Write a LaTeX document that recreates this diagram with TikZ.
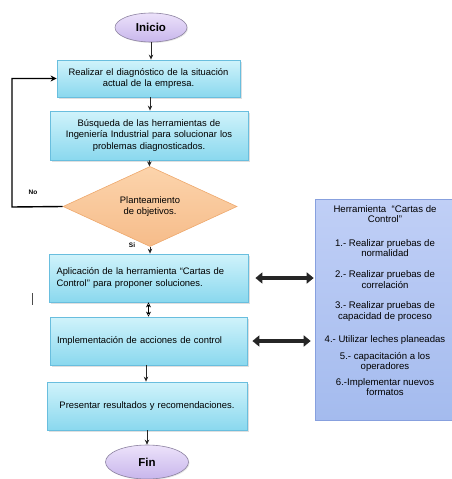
\documentclass[tikz,border=0pt]{standalone}
\usepackage{fontspec}
\setmainfont{Liberation Sans}
\usetikzlibrary{shapes.geometric,arrows.meta,shadows}
\definecolor{boxtop}{RGB}{208,243,251}
\definecolor{boxbot}{RGB}{138,216,238}
\definecolor{boxline}{RGB}{105,190,222}
\definecolor{diatop}{RGB}{252,212,172}
\definecolor{diabot}{RGB}{246,188,138}
\definecolor{dialine}{RGB}{238,168,108}
\definecolor{ovtop}{RGB}{236,226,250}
\definecolor{ovbot}{RGB}{200,182,236}
\definecolor{ovline}{RGB}{140,130,160}
\definecolor{paneltop}{RGB}{192,207,246}
\definecolor{panelbot}{RGB}{164,187,238}
\definecolor{panelline}{RGB}{135,160,222}
\tikzset{
  txt/.style={font=\fontsize{9.4}{11.2}\selectfont, text=black},
  stepbox/.style={rectangle, draw=boxline, line width=0.8pt, top color=boxtop, bottom color=boxbot,
    drop shadow={opacity=0.25, shadow xshift=1.5pt, shadow yshift=-1.5pt},
    inner sep=0pt, txt},
  terminal/.style={ellipse, draw=ovline, line width=0.6pt, top color=ovtop, bottom color=ovbot,
    inner sep=0pt, font=\fontsize{11.5}{13}\selectfont\bfseries,
    drop shadow={opacity=0.2, shadow xshift=1pt, shadow yshift=-1pt}},
  decision/.style={diamond, draw=dialine, line width=0.6pt, top color=diatop, bottom color=diabot,
    inner sep=0pt, txt, align=center},
  panelbox/.style={rectangle, draw=panelline, line width=0.6pt, top color=paneltop, bottom color=panelbot, inner sep=0pt},
  paneltxt/.style={font=\fontsize{9.6}{10.6}\selectfont, text=black, align=center},
  flow/.style={-{Stealth[length=5pt,width=4.5pt]}, line width=0.9pt, black!85},
  loopline/.style={-{Stealth[length=6pt,width=6pt]}, line width=1.4pt, black},
  bigarrow/.style={{Triangle[length=7pt,width=11pt]}-{Triangle[length=7pt,width=11pt]}, line width=4pt, black!85},
  hollow/.style={{Stealth[open,length=5pt,width=5pt]}-{Stealth[open,length=5pt,width=5pt]}, line width=0.6pt, black},
  lbl/.style={font=\fontsize{6.5}{8}\selectfont\bfseries, text=black}
}
\begin{document}
\begin{tikzpicture}[x=1pt,y=-1pt]
\useasboundingbox (0,0) rectangle (452,479);
% terminals
\node[terminal, minimum width=72pt, minimum height=29pt] (inicio) at (151,27.5) {Inicio};
\node[terminal, minimum width=83pt, minimum height=34pt] (fin) at (147,462) {Fin};
% process boxes
\node[stepbox, minimum width=183pt, minimum height=37pt, text width=183pt, align=center] (b1) at (148.5,78.5)
  {Realizar el diagnóstico de la situación\\actual de la empresa.\\[2pt]};
\node[stepbox, minimum width=198pt, minimum height=49pt, text width=198pt, align=center] (b2) at (149,135.5)
  {Búsqueda de las herramientas de\\Ingeniería Industrial para solucionar los\\problemas diagnosticados.};
\node[decision, minimum width=174pt, minimum height=62pt] (dia) at (150,206.5) {Planteamiento\\de objetivos.};
\node[stepbox, minimum width=199pt, minimum height=48pt, text width=184pt, align=left] (b3) at (148.5,278)
  {Aplicación de la herramienta “Cartas de\\Control” para proponer soluciones.};
\node[stepbox, minimum width=197pt, minimum height=48pt, text width=183pt, align=left] (b4) at (148.5,341)
  {Implementación de acciones de control};
\node[stepbox, minimum width=200pt, minimum height=48pt, text width=200pt, align=center] (b5) at (147,406)
  {Presentar resultados y recomendaciones.\\[6pt]};
% right panel
\node[panelbox, minimum width=139pt, minimum height=221pt] (panel) at (384.5,309.5) {};
\node[paneltxt] (p0) at (385,214) {Herramienta \ “Cartas de\\Control”};
\node[paneltxt] (p1) at (385,248) {1.- Realizar pruebas de\\normalidad};
\node[paneltxt] (p2) at (385,279.5) {2.- Realizar pruebas de\\correlación};
\node[paneltxt] (p3) at (385,311.5) {3.- Realizar pruebas de\\capacidad de proceso};
\node[paneltxt] (p4) at (385,340) {4.- Utilizar leches planeadas};
\node[paneltxt] (p5) at (385,362) {5.- capacitación a los\\operadores};
\node[paneltxt] (p6) at (385,387) {6.-Implementar nuevos\\formatos};
% labels
\node[lbl] (no) at (33,192) {No};
\node[lbl] (si) at (132,245) {Si};
% connectors
\draw[flow] (inicio) -- (inicio |- b1.north);
\draw[flow] (b1.south -| 150,0) -- (150,0 |- b2.north);
\draw[flow] (b2) -- (dia);
\draw[flow] (dia.south) -- (dia.south |- b3.north);
\draw[hollow] (b3.south) -- (b3.south |- b4.north);
\draw[flow] (146,0 |- b4.south) -- (146,0 |- b5.north);
\draw[flow] (b5.south -| fin) -- (fin.north);
\coordinate (fb) at (12,207);
\draw[loopline] (dia.west) -- (fb) |- (b1.west);
\draw[bigarrow] ([xshift=7pt]b3.east) -- ([xshift=-1pt]panel.west |- b3.east);
\draw[bigarrow] ([xshift=5pt]b4.east) -- ([xshift=-4pt]panel.west |- b4.east);
% stray cursor mark
\draw[black!70, line width=0.8pt] (32,293) -- (32,305);
\end{tikzpicture}
\end{document}
